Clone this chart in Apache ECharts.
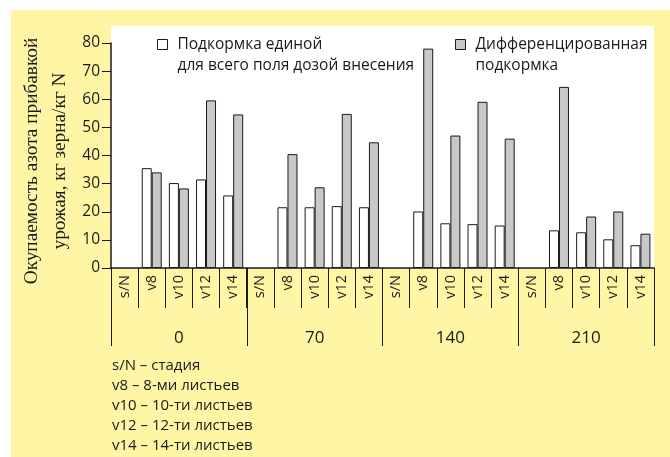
<!DOCTYPE html>
<html>
<head>
<meta charset="utf-8">
<script src="https://cdn.jsdelivr.net/npm/echarts@6/dist/echarts.min.js"></script>
<style>
  html, body { margin:0; padding:0; background:#fff; }
  #wrap { position:relative; width:670px; height:457px; overflow:hidden; }
  #panel { position:absolute; left:11px; top:10px; right:0; bottom:0; background:#fff6a5; }
  #chart { position:absolute; left:0; top:0; width:670px; height:457px; }
</style>
</head>
<body>
<div id="wrap"><div id="panel"></div><div id="chart"></div></div>
<script>
// ====== данные ======
const stages = ['s/N','v8','v10','v12','v14'];
const doses  = ['0','70','140','210'];
const categories = doses.flatMap(() => stages);

const seriesNames = [
  'Подкормка единой\nдля всего поля дозой внесения',
  'Дифференцированная\nподкормка'
];
const uniform = [null,35.5,30.2,31.5,25.8, null,21.6,21.6,22.0,21.6, null,20.1,15.9,15.6,15.1, null,13.4,12.7,10.2,8.1];
const differ  = [null,34.0,28.3,59.6,54.6, null,40.5,28.7,54.8,44.7, null,78.0,47.1,59.1,46.0, null,64.4,18.3,20.1,12.2];

const yTitle = 'Окупаемость азота прибавкой\nурожая, кг зерна/кг N';
const notes = [
  's/N – стадия',
  'v8 – 8-ми листьев',
  'v10 – 10-ти листьев',
  'v12 – 12-ти листьев',
  'v14 – 14-ти листьев'
];

// ====== оформление ======
const FONT = 'Open Sans';
const INK = '#1a1a1a';
const grid = { left:111, right:16, top:43, bottom:189 };

const chart = echarts.init(document.getElementById('chart'));

// пустая первая строка — чтобы иконка стояла напротив первой строки текста
function legendFor(name, left, color){
  return {
    left, top: 13, padding: 0,
    itemWidth: 10, itemHeight: 10,
    icon: 'rect',
    data: [name],
    selectedMode: false,
    formatter: n => '\n' + n.split('\n').map(l => '{t|' + l + '}').join('\n'),
    itemStyle: { color, borderColor: INK, borderWidth: 1 },
    textStyle: {
      fontFamily: FONT, fontSize: 15.5, color: INK, lineHeight: 21,
      rich: { t: { fontFamily: FONT, fontSize: 15.5, color: INK, lineHeight: 21, padding: [0,0,0,5], align: 'left' } }
    }
  };
}

chart.setOption({
  animation: false,
  graphic: [
    { type:'rect', z:-10, silent:true,
      shape:{ x:grid.left, y:26, width:670-grid.left-grid.right, height:457-grid.bottom-26 },
      style:{ fill:'#fff' } },
    { type:'text', left:112, top:356, silent:true,
      style:{ text: notes.join('\n'), fontFamily: FONT, fontSize: 15, lineHeight: 20, fill: INK } },
    { type:'text', x:46, y:161, rotation:Math.PI/2, silent:true,
      style:{ text: yTitle, fontFamily:'Liberation Serif', fontSize:19.3, lineHeight:28,
              fill: INK, align:'center', verticalAlign:'middle' } }
  ],
  legend: [
    legendFor(seriesNames[0], 157, '#fff'),
    legendFor(seriesNames[1], 455, '#c8c8c8')
  ],
  grid: grid,
  xAxis: [
    {
      type:'category', data: categories, position:'bottom',
      axisLine:{ show:true, lineStyle:{ color:INK, width:1.5 } },
      axisTick:{ show:true, length:40, lineStyle:{ color:INK, width:1 } },
      axisLabel:{ rotate:90, margin:7, fontFamily:FONT, fontSize:14.5, color:INK, interval:0 }
    },
    {
      type:'category', data: doses, position:'bottom',
      axisLine:{ show:false },
      axisTick:{ show:true, length:78, lineStyle:{ color:INK, width:1 } },
      axisLabel:{ margin:62, fontFamily:FONT, fontSize:17, color:INK }
    }
  ],
  yAxis: {
    type:'value', min:0, max:80, interval:10,
    axisLine:{ show:true, lineStyle:{ color:INK, width:1.5 } },
    axisTick:{ show:true, length:9, lineStyle:{ color:INK } },
    axisLabel:{ margin:11, fontFamily:FONT, fontSize:15.5, color:INK },
    splitLine:{ show:false }
  },
  series: [
    { name: seriesNames[0], type:'bar', data: uniform, barWidth:10, barGap:'0%',
      itemStyle:{ color:'#fff', borderColor:INK, borderWidth:1 } },
    { name: seriesNames[1], type:'bar', data: differ, barWidth:10, barGap:'0%',
      itemStyle:{ color:'#c8c8c8', borderColor:INK, borderWidth:1 } }
  ]
});
</script>
</body>
</html>
